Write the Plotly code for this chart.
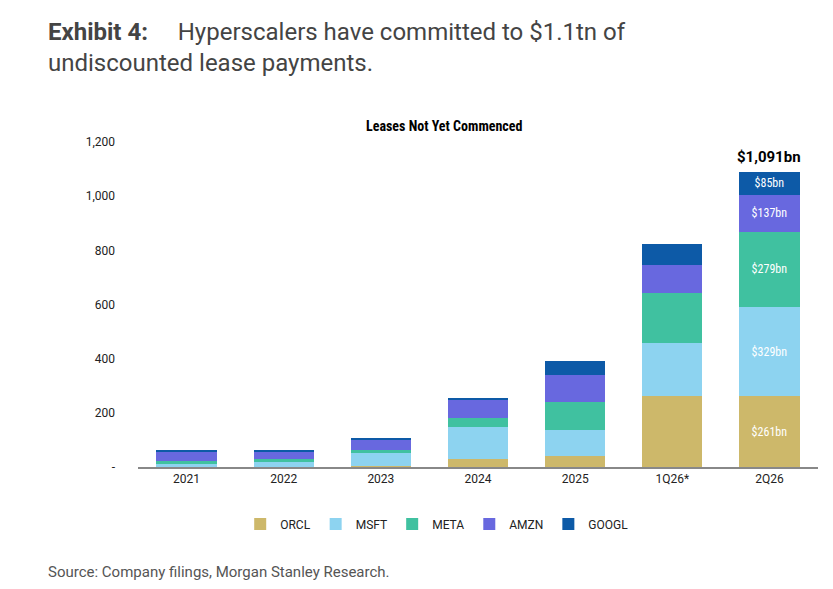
import plotly.graph_objects as go

categories = ["2021", "2022", "2023", "2024", "2025", "1Q26*", "2Q26"]
orcl = [0, 0, 4, 31, 40, 261, 261]
msft = [10, 20, 48, 117, 96, 197, 329]
meta = [13, 10, 9, 33, 104, 184, 279]
amzn = [34, 27, 39, 67, 98, 103, 137]
googl = [4, 4, 4, 4, 55, 77, 85]
series = [("ORCL", orcl, "#CDB86A"), ("MSFT", msft, "#8DD3F0"), ("META", meta, "#40C1A0"),
          ("AMZN", amzn, "#6868DF"), ("GOOGL", googl, "#0D5AA7")]

fig = go.Figure()
last = len(categories) - 1
for name, vals, col in series:
    texts = [""] * len(vals)
    texts[last] = f"${vals[last]}bn"
    fig.add_trace(go.Bar(x=categories, y=vals, name=name, marker_color=col, marker_line_width=0,
                         text=texts, textposition="inside", insidetextanchor="middle",
                         textfont=dict(color="white", size=12, family="Roboto Condensed, Roboto, Arial"),
                         width=0.62))
total = sum(s[1][last] for s in series)
fig.add_annotation(x=categories[last], y=total, text=f"<b>${total:,}bn</b>", showarrow=False,
                   yanchor="bottom", yshift=4, font=dict(size=15, color="black", family="Roboto"))

fig.update_layout(
    barmode="stack", width=833, height=589, plot_bgcolor="white", paper_bgcolor="white",
    margin=dict(l=130, r=23, t=134, b=130),
    font=dict(family="Roboto, Arial", color="#333", size=12),
    bargap=0.38, uniformtext=dict(mode="show", minsize=8),
    xaxis=dict(showline=True, linecolor="#888", linewidth=2, tickfont=dict(size=12, color="#222")),
    yaxis=dict(range=[0, 1200], tickvals=[0, 200, 400, 600, 800, 1000, 1200],
               ticktext=["-", "200", "400", "600", "800", "1,000", "1,200"], showgrid=False,
               zeroline=False, ticklabelstandoff=22, tickfont=dict(size=12, color="#222")),
    legend=dict(orientation="h", x=0.44, xanchor="center", y=-0.175, yanchor="middle",
                traceorder="normal", font=dict(size=12, color="#222")),
    showlegend=True,
)
fig.add_annotation(xref="paper", yref="paper", x=0.45, y=1.0, yanchor="bottom", yshift=6,
                   text="<b>Leases Not Yet Commenced</b>", showarrow=False,
                   font=dict(size=14, color="black", family="Roboto Condensed, Roboto"))
fig.add_annotation(xref="paper", yref="paper", x=-0.135, xanchor="left", y=1.0, yanchor="top", yshift=126,
                   align="left", showarrow=False,
                   text="<b>Exhibit 4:</b>     Hyperscalers have committed to $1.1tn of<br>undiscounted lease payments.",
                   font=dict(size=24, color="#444", family="Roboto"))
fig.add_annotation(xref="paper", yref="paper", x=-0.135, xanchor="left", y=0, yanchor="middle", yshift=-105,
                   showarrow=False, text="Source: Company filings, Morgan Stanley Research.",
                   font=dict(size=15, color="#555", family="Roboto"))
fig.write_html("out.html")
